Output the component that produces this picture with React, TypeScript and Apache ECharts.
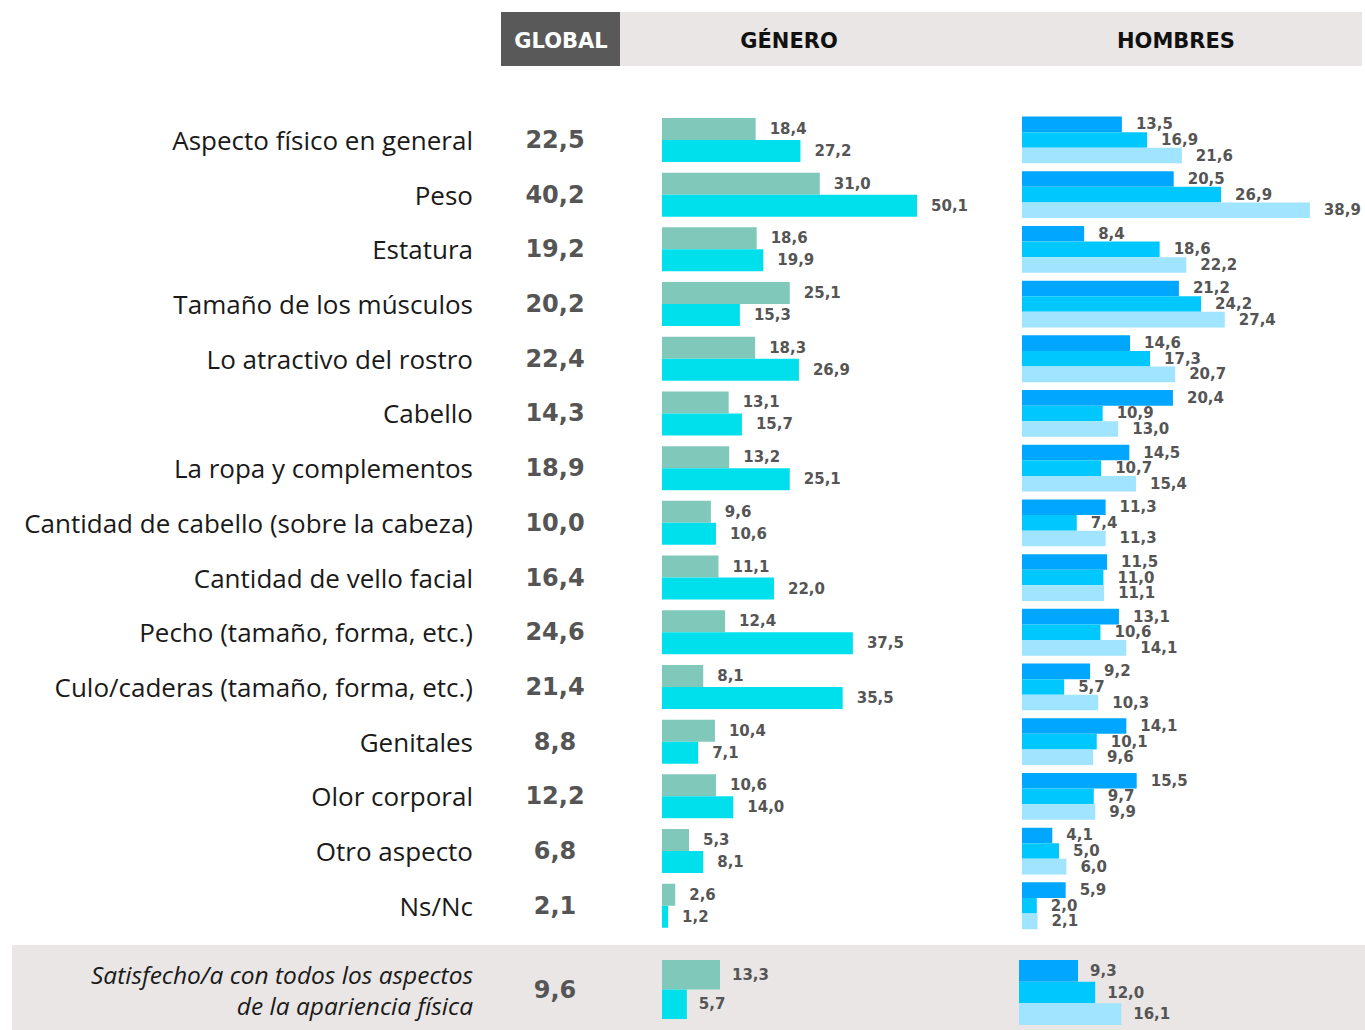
import React, { useEffect, useRef } from "react";
import * as echarts from "echarts";

const categories = [
  "Aspecto físico en general",
  "Peso",
  "Estatura",
  "Tamaño de los músculos",
  "Lo atractivo del rostro",
  "Cabello",
  "La ropa y complementos",
  "Cantidad de cabello (sobre la cabeza)",
  "Cantidad de vello facial",
  "Pecho (tamaño, forma, etc.)",
  "Culo/caderas (tamaño, forma, etc.)",
  "Genitales",
  "Olor corporal",
  "Otro aspecto",
  "Ns/Nc",
];
const globalValues = [22.5, 40.2, 19.2, 20.2, 22.4, 14.3, 18.9, 10.0, 16.4, 24.6, 21.4, 8.8, 12.2, 6.8, 2.1];
const generoHombres = [18.4, 31.0, 18.6, 25.1, 18.3, 13.1, 13.2, 9.6, 11.1, 12.4, 8.1, 10.4, 10.6, 5.3, 2.6];
const generoMujeres = [27.2, 50.1, 19.9, 15.3, 26.9, 15.7, 25.1, 10.6, 22.0, 37.5, 35.5, 7.1, 14.0, 8.1, 1.2];
const hombresGrupo1 = [13.5, 20.5, 8.4, 21.2, 14.6, 20.4, 14.5, 11.3, 11.5, 13.1, 9.2, 14.1, 15.5, 4.1, 5.9];
const hombresGrupo2 = [16.9, 26.9, 18.6, 24.2, 17.3, 10.9, 10.7, 7.4, 11.0, 10.6, 5.7, 10.1, 9.7, 5.0, 2.0];
const hombresGrupo3 = [21.6, 38.9, 22.2, 27.4, 20.7, 13.0, 15.4, 11.3, 11.1, 14.1, 10.3, 9.6, 9.9, 6.0, 2.1];

const satisfiedLabel = "Satisfecho/a con todos los aspectos\nde la apariencia física";
const satisfiedGlobal = [9.6];
const satisfiedGeneroHombres = [13.3];
const satisfiedGeneroMujeres = [5.7];
const satisfiedGrupo1 = [9.3];
const satisfiedGrupo2 = [12.0];
const satisfiedGrupo3 = [16.1];

const headers = { global: "GLOBAL", genero: "GÉNERO", hombres: "HOMBRES" };

const fmt = (v: number) => v.toFixed(1).replace(".", ",");
const LABEL_FONT = "Open Sans";
const BOLD_FONT = "DejaVu Sans";

export default function App() {
  const ref = useRef<HTMLDivElement>(null);
  useEffect(() => {
    document.body.style.margin = "0";
    if (!ref.current) return;
    const chart = echarts.init(ref.current, undefined, { renderer: "svg" });

    const labelStyle = {
      show: true,
      position: "right" as const,
      distance: 14,
      fontSize: 15,
      fontWeight: "bold" as const,
      color: "#555555",
      fontFamily: BOLD_FONT,
      formatter: (p: any) => fmt(p.value),
    };

    const hiddenCat = (data: string[], gridIndex: number) => ({
      type: "category",
      gridIndex,
      inverse: true,
      data,
      axisLine: { show: false },
      axisTick: { show: false },
      axisLabel: { show: false },
      splitLine: { show: false },
    });

    const mainTop = 112.6;
    const mainHeight = 820.5;

    const option: any = {
      animation: false,
      backgroundColor: "#ffffff",
      textStyle: { fontFamily: LABEL_FONT },
      graphic: [
        { type: "rect", z: -10, shape: { x: 12, y: 945, width: 1353, height: 85 }, style: { fill: "#E9E6E5" } },
        { type: "rect", z: -10, shape: { x: 620, y: 12, width: 742, height: 54 }, style: { fill: "#E9E6E5" } },
        { type: "rect", z: -10, shape: { x: 501, y: 12, width: 119, height: 54 }, style: { fill: "#595959" } },
        {
          type: "text",
          x: 561,
          y: 41,
          style: { text: headers.global, fill: "#ffffff", font: `bold 21px "${BOLD_FONT}"`, align: "center", verticalAlign: "middle" },
        },
        {
          type: "text",
          x: 789,
          y: 41,
          style: { text: headers.genero, fill: "#111111", font: `bold 21px "${BOLD_FONT}"`, align: "center", verticalAlign: "middle" },
        },
        {
          type: "text",
          x: 1176,
          y: 41,
          style: { text: headers.hombres, fill: "#111111", font: `bold 21px "${BOLD_FONT}"`, align: "center", verticalAlign: "middle" },
        },
      ],
      grid: [
        { left: 662, top: mainTop, width: 305.4, height: mainHeight },
        { left: 1022, top: mainTop, width: 333, height: mainHeight },
        { left: 662, top: 960, width: 261.6, height: 59 },
        { left: 1019, top: 960, width: 285.75, height: 65 },
      ],
      xAxis: [
        { type: "value", gridIndex: 0, min: 0, max: 60, show: false },
        { type: "value", gridIndex: 1, min: 0, max: 45, show: false },
        { type: "value", gridIndex: 2, min: 0, max: 60, show: false },
        { type: "value", gridIndex: 3, min: 0, max: 45, show: false },
      ],
      yAxis: [
        {
          type: "category",
          gridIndex: 0,
          inverse: true,
          data: categories,
          axisLine: { show: false },
          axisTick: { show: false },
          axisLabel: { margin: 189, fontSize: 26, color: "#1a1a1a", fontFamily: LABEL_FONT },
        },
        {
          type: "category",
          gridIndex: 0,
          position: "left",
          inverse: true,
          data: globalValues.map(fmt),
          axisLine: { show: false },
          axisTick: { show: false },
          axisLabel: { margin: 107, align: "center", fontSize: 24, fontWeight: "bold", color: "#555555", fontFamily: BOLD_FONT },
        },
        hiddenCat(categories, 1),
        {
          type: "category",
          gridIndex: 2,
          inverse: true,
          data: [satisfiedLabel],
          axisLine: { show: false },
          axisTick: { show: false },
          axisLabel: {
            margin: 189,
            fontSize: 24.5,
            fontStyle: "italic",
            lineHeight: 31,
            align: "right",
            color: "#1a1a1a",
            fontFamily: LABEL_FONT,
          },
        },
        {
          type: "category",
          gridIndex: 2,
          position: "left",
          inverse: true,
          data: satisfiedGlobal.map(fmt),
          axisLine: { show: false },
          axisTick: { show: false },
          axisLabel: { margin: 107, align: "center", fontSize: 24, fontWeight: "bold", color: "#555555", fontFamily: BOLD_FONT },
        },
        hiddenCat(["sat"], 3),
      ],
      series: [
        { name: "Hombres", type: "bar", xAxisIndex: 0, yAxisIndex: 0, data: generoHombres, barWidth: 22, barGap: "0%", itemStyle: { color: "#80C8BA" }, label: labelStyle },
        { name: "Mujeres", type: "bar", xAxisIndex: 0, yAxisIndex: 0, data: generoMujeres, barWidth: 22, barGap: "0%", itemStyle: { color: "#00E0EC" }, label: labelStyle },
        { name: "Grupo 1", type: "bar", xAxisIndex: 1, yAxisIndex: 2, data: hombresGrupo1, barWidth: 15.6, barGap: "0%", itemStyle: { color: "#00A6FF" }, label: labelStyle },
        { name: "Grupo 2", type: "bar", xAxisIndex: 1, yAxisIndex: 2, data: hombresGrupo2, barWidth: 15.6, barGap: "0%", itemStyle: { color: "#00C8FF" }, label: labelStyle },
        { name: "Grupo 3", type: "bar", xAxisIndex: 1, yAxisIndex: 2, data: hombresGrupo3, barWidth: 15.6, barGap: "0%", itemStyle: { color: "#A0E4FF" }, label: labelStyle },
        { name: "Hombres sat", type: "bar", xAxisIndex: 2, yAxisIndex: 3, data: satisfiedGeneroHombres, barWidth: 29.5, barGap: "0%", itemStyle: { color: "#80C8BA" }, label: { ...labelStyle, distance: 12 } },
        { name: "Mujeres sat", type: "bar", xAxisIndex: 2, yAxisIndex: 3, data: satisfiedGeneroMujeres, barWidth: 29.5, barGap: "0%", itemStyle: { color: "#00E0EC" }, label: { ...labelStyle, distance: 12 } },
        { name: "Grupo 1 sat", type: "bar", xAxisIndex: 3, yAxisIndex: 5, data: satisfiedGrupo1, barWidth: 21.7, barGap: "0%", itemStyle: { color: "#00A6FF" }, label: { ...labelStyle, distance: 12 } },
        { name: "Grupo 2 sat", type: "bar", xAxisIndex: 3, yAxisIndex: 5, data: satisfiedGrupo2, barWidth: 21.7, barGap: "0%", itemStyle: { color: "#00C8FF" }, label: { ...labelStyle, distance: 12 } },
        { name: "Grupo 3 sat", type: "bar", xAxisIndex: 3, yAxisIndex: 5, data: satisfiedGrupo3, barWidth: 21.7, barGap: "0%", itemStyle: { color: "#A0E4FF" }, label: { ...labelStyle, distance: 12 } },
      ],
    };
    chart.setOption(option);
    return () => chart.dispose();
  }, []);
  return <div ref={ref} style={{ width: 1365, height: 1030 }} />;
}
